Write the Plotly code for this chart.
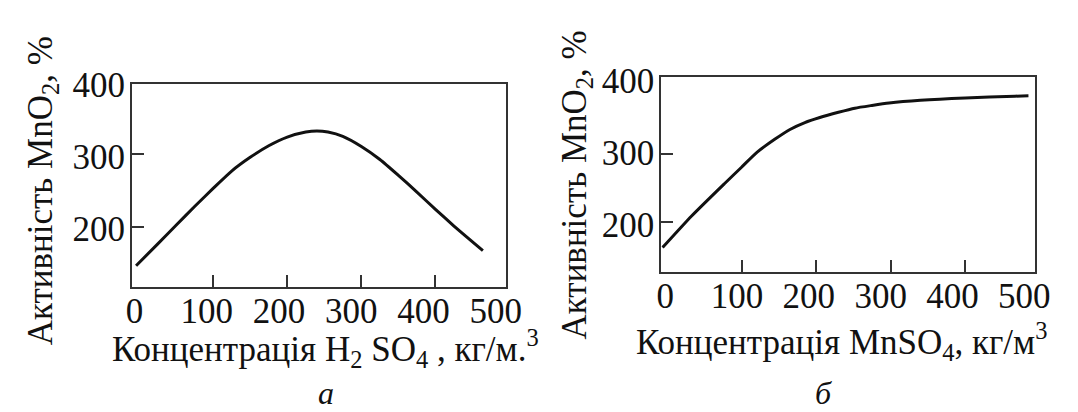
import plotly.graph_objects as go

# ---------------- data ----------------
h2so4_conc = [-4, 25, 50, 75, 100, 125, 150, 175, 200, 225, 240, 255, 275, 300, 325, 350, 375, 400, 425, 450, 464]
h2so4_activity = [146, 176, 202, 228, 253, 277, 296, 312, 324, 331, 332.5, 331, 325, 311, 293, 271, 248, 224, 201, 179, 167]

mnso4_conc = [-6, 33, 77, 100, 121, 145, 165, 185, 204, 230, 252, 275, 298, 340, 400, 467, 485]
mnso4_activity = [163, 209, 256, 280, 302, 321, 335, 345, 352, 360, 366, 370, 373.5, 377.5, 381, 383.5, 384]

x_tick_marks = [100, 200, 300, 400]
x_tick_labels = [0, 100, 200, 300, 400, 500]
y_tick_marks = [200, 300]
y_tick_labels = [200, 300, 400]

# ---------------- layout helpers ----------------
W, H = 1078, 412
FONT = "Times New Roman, Liberation Serif, DejaVu Serif, serif"
INK = "#111111"
FRAME = "#333333"


def px_x(p):
    return p / W


def px_y(p):
    return 1 - p / H


fig = go.Figure()

fig.add_trace(go.Scatter(x=h2so4_conc, y=h2so4_activity, mode="lines",
                         line=dict(color=INK, width=3, shape="spline", smoothing=0.6),
                         xaxis="x", yaxis="y", showlegend=False, hoverinfo="skip"))
fig.add_trace(go.Scatter(x=mnso4_conc, y=mnso4_activity, mode="lines",
                         line=dict(color=INK, width=3, shape="spline", smoothing=0.6),
                         xaxis="x2", yaxis="y2", showlegend=False, hoverinfo="skip"))
# invisible traces so the label (overlay) axes are drawn
fig.add_trace(go.Scatter(x=[None], y=[None], xaxis="x3", yaxis="y3", showlegend=False, hoverinfo="skip"))
fig.add_trace(go.Scatter(x=[None], y=[None], xaxis="x4", yaxis="y4", showlegend=False, hoverinfo="skip"))

frame_axis = dict(showline=True, mirror=True, linecolor=FRAME, linewidth=2,
                  ticks="inside", ticklen=12, tickwidth=2, tickcolor=FRAME,
                  showticklabels=False, showgrid=False, zeroline=False, fixedrange=True)
label_axis = dict(showline=False, ticks="", showgrid=False, zeroline=False,
                  tickfont=dict(family=FONT, size=35, color=INK), fixedrange=True)

left_dom_x = [px_x(128.5), px_x(510.5)]
left_dom_y = [px_y(281.7), px_y(69)]
right_dom_x = [px_x(669), px_x(1050)]
right_dom_y = [px_y(265.7), px_y(61.7)]

fig.update_layout(
    width=W, height=H,
    margin=dict(l=0, r=0, t=0, b=0),
    paper_bgcolor="white", plot_bgcolor="white",
    font=dict(family=FONT, color=INK),
    # left panel: data / tick axes
    xaxis=dict(frame_axis, domain=left_dom_x, anchor="y", range=[-9.65, 495.3], tickvals=x_tick_marks),
    yaxis=dict(frame_axis, domain=left_dom_y, anchor="x", range=[116.1, 397.5], tickvals=y_tick_marks),
    # right panel: data / tick axes
    xaxis2=dict(frame_axis, domain=right_dom_x, anchor="y2", range=[-7.6, 493.2], tickvals=x_tick_marks),
    yaxis2=dict(frame_axis, domain=right_dom_y, anchor="x2", range=[127.3, 411.4], tickvals=y_tick_marks),
    # label axes
    xaxis3=dict(label_axis, overlaying="x", anchor="y3", side="bottom", range=[-3.66, 514.2],
                tickvals=x_tick_labels, ticktext=[str(v) for v in x_tick_labels]),
    yaxis3=dict(label_axis, overlaying="y", anchor="x3", side="left", range=[117.7, 401.3],
                tickvals=y_tick_labels, ticktext=[str(v) for v in y_tick_labels], ticklabelstandoff=6),
    xaxis4=dict(label_axis, overlaying="x2", anchor="y4", side="bottom", range=[-5.4, 514.3],
                tickvals=x_tick_labels, ticktext=[str(v) for v in x_tick_labels]),
    yaxis4=dict(label_axis, overlaying="y2", anchor="x4", side="left", range=[133.3, 405.3],
                tickvals=y_tick_labels, ticktext=[str(v) for v in y_tick_labels], ticklabelstandoff=6),
)

title_font = dict(family=FONT, size=35, color=INK)
annotations = [
    dict(text="Активність MnO<sub>2</sub>, %", x=px_x(37), y=px_y(181), textangle=-90),
    dict(text="Активність MnO<sub>2</sub>, %", x=px_x(582), y=px_y(175), textangle=-90),
    dict(text="Концентрація H<sub>2</sub> SO<sub>4</sub> , кг/м.<sup>3</sup>", x=px_x(326), y=px_y(346)),
    dict(text="Концентрація MnSO<sub>4</sub>, кг/м<sup>3</sup>", x=px_x(853), y=px_y(338)),
]
for a in annotations:
    fig.add_annotation(xref="paper", yref="paper", showarrow=False,
                       xanchor="center", yanchor="middle", font=title_font, **a)

panel_font = dict(family=FONT, size=32, color=INK)
for txt, cx in [("<i>а</i>", 327), ("<i>б</i>", 835)]:
    fig.add_annotation(xref="paper", yref="paper", showarrow=False, text=txt,
                       x=px_x(cx), y=px_y(392), xanchor="center", yanchor="middle", font=panel_font)

fig.write_html("out.html")
